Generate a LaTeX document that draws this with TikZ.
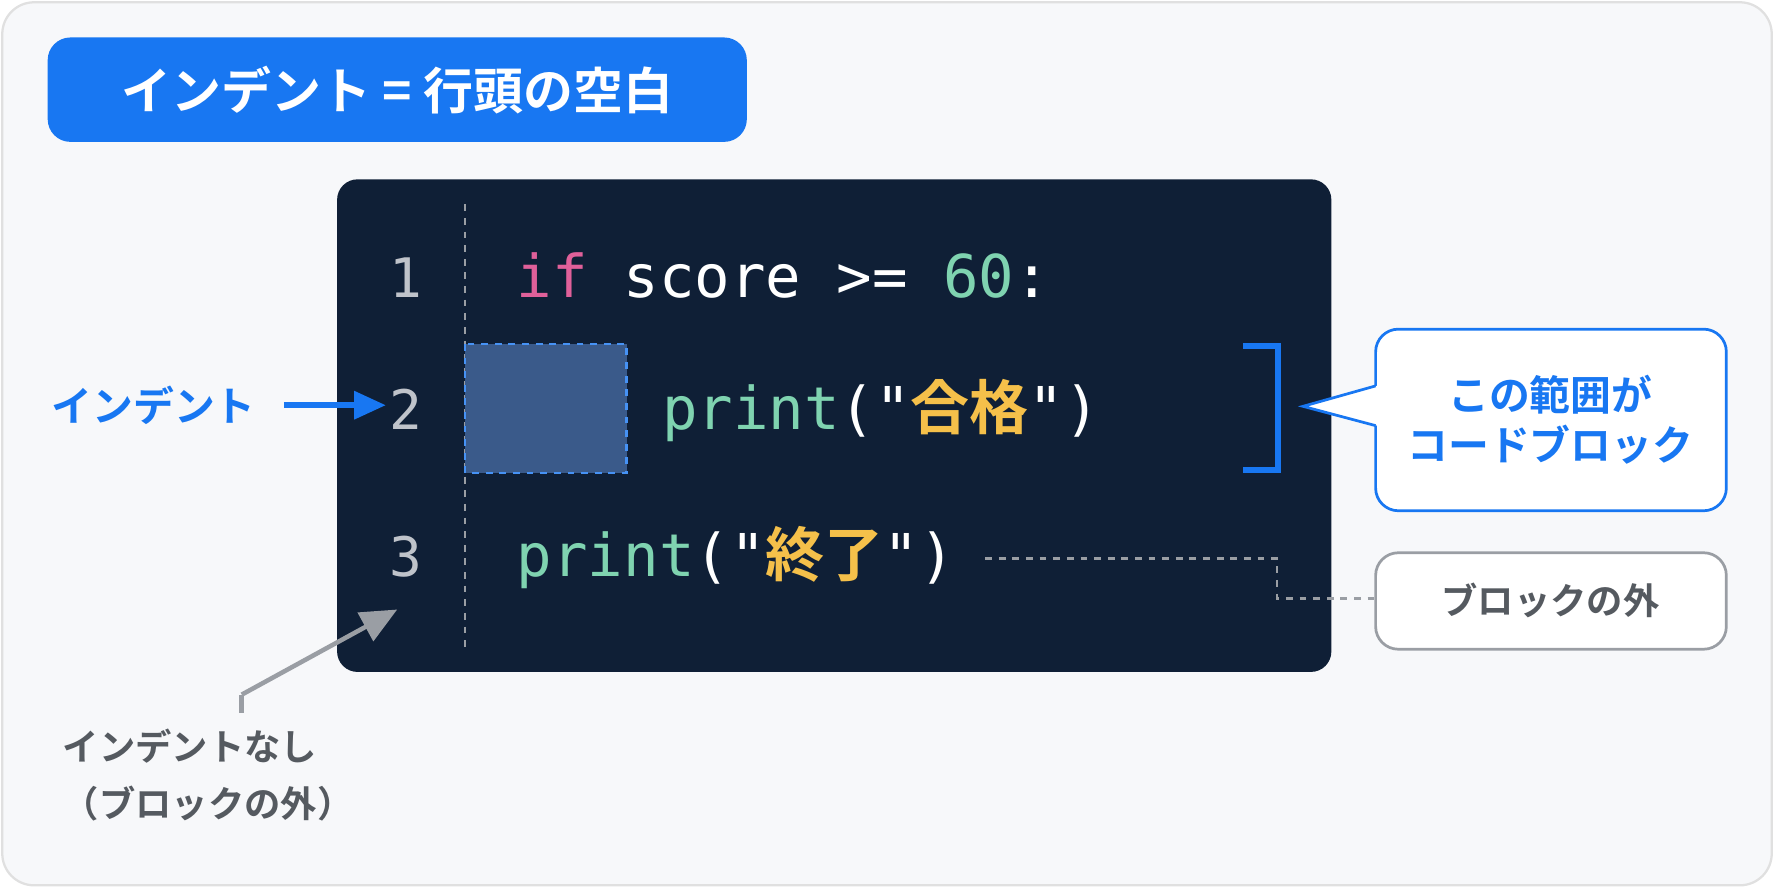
\documentclass[tikz,border=0pt]{standalone}
\usepackage{fontspec}
\setmainfont{Noto Sans CJK JP}
\newfontfamily\jpb{Noto Sans CJK JP Bold}
\newfontfamily\cmono{DejaVu Sans Mono}
\usetikzlibrary{arrows.meta}
\definecolor{bgc}{HTML}{F7F8FA}
\definecolor{blu}{HTML}{1877F2}
\definecolor{panel}{HTML}{0F1F36}
\definecolor{lnum}{HTML}{BFC3CA}
\definecolor{kwp}{HTML}{E0609A}
\definecolor{grn}{HTML}{7FD3B0}
\definecolor{ylw}{HTML}{F5C04A}
\definecolor{ind}{HTML}{3A5A8A}
\definecolor{dgr}{HTML}{555A60}
\definecolor{mgr}{HTML}{9A9EA4}
\begin{document}
\begin{tikzpicture}[x=0.5pt,y=-0.5pt,
  code/.style={anchor=base west,inner sep=0pt,font=\cmono\fontsize{26}{30}\selectfont,text=white},
  lno/.style={anchor=base,inner sep=0pt,font=\cmono\fontsize{24}{28}\selectfont,text=lnum},
  jp/.style={font=\jpb\fontsize{18}{22}\selectfont,align=center}]
\useasboundingbox (0,0) rectangle (1563,782);
\draw[draw=black!12,fill=bgc,line width=1pt,rounded corners=14pt] (2,2) rectangle (1561,780);
% title
\fill[blu,rounded corners=10pt] (42,33) rectangle (658,125);
\node[text=white,font=\jpb\fontsize{22}{26}\selectfont] (title) at (350,79) {インデント = 行頭の空白};
% panel
\fill[panel,rounded corners=9pt] (297,158) rectangle (1173,592);
\draw[mgr,dashed,line width=1pt] (410,180) -- (410,570);
% indent box
\draw[blu!80,dashed,fill=ind,line width=1pt] (410,303) rectangle (552,417);
% line numbers
\node[lno] (n1) at (358,262) {1};
\node[lno] (n2) at (358,378) {2};
\node[lno] (n3) at (358,508) {3};
% code
\node[code] (c1) at (455,262) {\textcolor{kwp}{if} score >= \textcolor{grn}{60}:};
\node[code] (c2) at (583,378) {\textcolor{grn}{print}("\textcolor{ylw}{\jpb 合格}")};
\node[code] (c3) at (455,508) {\textcolor{grn}{print}("\textcolor{ylw}{\jpb 終了}")};
% bracket
\draw[blu,line width=2.5pt] (1095,305) -- (1126,305) -- (1126,414) -- (1095,414);
% callout
\draw[blu,line width=1.2pt,fill=white,rounded corners=10pt]
  (1212,290) rectangle (1521,450);
\fill[white] (1213,340) -- (1148,358) -- (1213,375) -- cycle;
\draw[blu,line width=1.2pt] (1212,340) -- (1148,358) -- (1212,375);
\node[jp,text=blu] (cb) at (1366,370) {この範囲が\\コードブロック};
% outside box
\draw[mgr,line width=1.2pt,fill=white,rounded corners=10pt] (1212,487) rectangle (1521,572);
\node[jp,text=dgr,font=\jpb\fontsize{16}{20}\selectfont] (out) at (1366,529) {ブロックの外};
\coordinate (d0) at (868,492);
\draw[mgr,dashed,line width=1.2pt] (d0) -- (1125,492) -- (1125,527) -- (1212,527);
% left label
\node[jp,text=blu,anchor=west,inner sep=0pt] (il) at (45,357) {インデント};
\coordinate (a0) at (250,357);
\coordinate (a1) at (340,357);
\draw[blu,line width=2.5pt,-{Triangle[length=14pt,width=12pt]}] (a0) -- (a1);
% no indent
\coordinate (g0) at (213,612);
\coordinate (g1) at (350,537);
\draw[mgr,line width=2pt,-{Triangle[length=16pt,width=14pt]}] (g0) -- (g1);
\draw[mgr,line width=2pt] (213,612) -- (213,628);
\node[jp,text=dgr,anchor=north west,align=left,inner sep=0pt,font=\jpb\fontsize{16}{25}\selectfont] (ni) at (55,642) {インデントなし\\（ブロックの外）};
\end{tikzpicture}
\end{document}
